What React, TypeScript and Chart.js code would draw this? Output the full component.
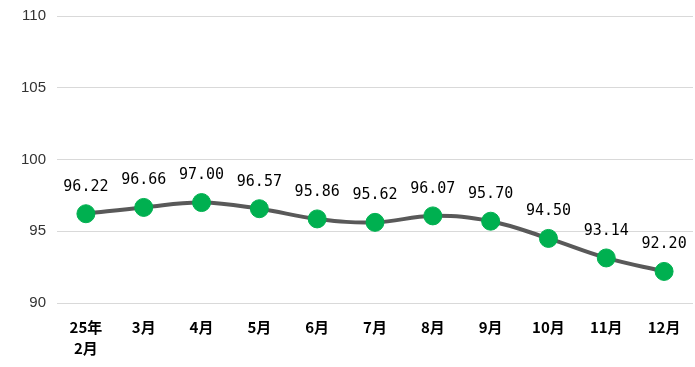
import React, { useEffect, useRef } from "react";
import { Chart, registerables } from "chart.js";

Chart.register(...registerables);

const categories: (string | string[])[] = [["25年", "2月"], "3月", "4月", "5月", "6月", "7月", "8月", "9月", "10月", "11月", "12月"];
const values = [96.22, 96.66, 97.0, 96.57, 95.86, 95.62, 96.07, 95.7, 94.5, 93.14, 92.2];
const yTicks = [90, 95, 100, 105, 110];

const labelPlugin = {
  id: "valueLabels",
  afterDatasetsDraw(chart: any) {
    const ctx = chart.ctx;
    const meta = chart.getDatasetMeta(0);
    ctx.save();
    ctx.font = '15px "DejaVu Sans Mono"';
    ctx.fillStyle = "#000000";
    ctx.textAlign = "center";
    ctx.textBaseline = "middle";
    meta.data.forEach((pt: any, i: number) => {
      ctx.fillText(values[i].toFixed(2), pt.x, pt.y - 27);
    });
    ctx.restore();
  },
};

export default function App() {
  const ref = useRef<HTMLCanvasElement>(null);
  useEffect(() => {
    const chart = new Chart(ref.current!, {
      type: "line",
      data: {
        labels: categories,
        datasets: [
          {
            data: values,
            borderColor: "#595959",
            borderWidth: 4,
            tension: 0.4,
            pointRadius: 9,
            pointBackgroundColor: "#00B050",
            pointBorderColor: "#00B050",
            pointBorderWidth: 1,
            clip: false,
          },
        ],
      },
      options: {
        animation: false,
        responsive: false,
        layout: { autoPadding: false, padding: { top: 16, right: 2, left: 0, bottom: 0 } },
        plugins: { legend: { display: false }, tooltip: { enabled: false } },
        scales: {
          x: {
            offset: true,
            grid: { display: false },
            border: { display: false },
            ticks: {
              color: "#000000",
              font: { family: '"Noto Sans CJK SC"', size: 15, weight: "bold", lineHeight: 1.45 },
              padding: 5,
              maxRotation: 0,
            },
            afterFit: (s: any) => {
              s.height = 64;
              s.paddingRight = 0;
              s.paddingLeft = 0;
            },
          },
          y: {
            min: 90,
            max: 110,
            afterBuildTicks: (s: any) => {
              s.ticks = yTicks.map((v) => ({ value: v }));
            },
            grid: { color: "#d9d9d9", lineWidth: 1, drawTicks: false },
            border: { display: false },
            ticks: {
              color: "#333333",
              font: { family: '"Liberation Sans"', size: 15 },
              padding: 11,
            },
            afterFit: (s: any) => {
              s.width = 57;
              s.paddingTop = 0;
              s.paddingBottom = 0;
            },
          },
        },
      },
      plugins: [labelPlugin],
    });
    return () => chart.destroy();
  }, []);
  return (
    <div style={{ position: "fixed", left: 0, top: 0, width: 695, height: 367, background: "#fff" }}>
      <canvas ref={ref} width={695} height={367} />
    </div>
  );
}
